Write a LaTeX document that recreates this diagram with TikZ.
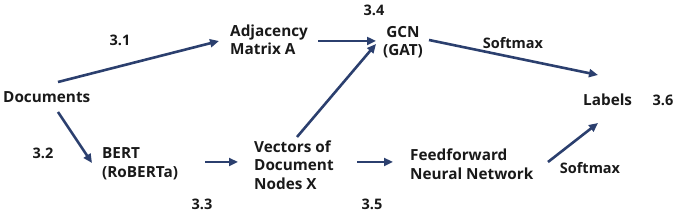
\documentclass[tikz,border=0pt]{standalone}
\usepackage{fontspec}
\setmainfont{Open Sans}
\usetikzlibrary{arrows.meta}
\definecolor{navy}{HTML}{2B3F6E}
\begin{document}
\begin{tikzpicture}[x=1pt,y=-1pt,
  lbl/.style={inner sep=0pt,font=\fontsize{15.3}{18.5}\selectfont\bfseries,text=black!90,align=left,anchor=west},
  num/.style={inner sep=0pt,font=\fontsize{14.5}{18}\selectfont\bfseries,text=black!90},
  arr/.style={draw=navy,line width=2.6pt,-{Triangle[length=9pt,width=8pt]}}]
\useasboundingbox (0,0) rectangle (680,213);
% nodes
\node[lbl] (doc) at (3,97) {Documents};
\node[lbl] (adj) at (230,40) {Adjacency\\Matrix A};
\node[lbl,align=center,anchor=center] (gcn) at (403,42) {GCN\\(GAT)};
\node[lbl] (lab) at (583,100) {Labels};
\node[lbl] (bert) at (102,164) {BERT\\(RoBERTa)};
\node[lbl] (vec) at (254,165) {Vectors of\\Document\\Nodes X};
\node[lbl] (ff) at (410,164) {Feedforward\\Neural Network};
% numbers and labels
\node[num] (n31) at (120,40) {3.1};
\node[num] (n34) at (374,10) {3.4};
\node[num] (n36) at (663,100) {3.6};
\node[num] (n32) at (43,153) {3.2};
\node[num] (n33) at (202,204) {3.3};
\node[num] (n35) at (372,204) {3.5};
\node[num] (sm1) at (513,43) {Softmax};
\node[num] (sm2) at (590,168) {Softmax};
% arrow ends
\coordinate (docA) at (58,82);
\coordinate (adjIn) at (219,41);
\coordinate (docB) at (58,112);
\coordinate (bertIn) at (92,163);
\coordinate (adjOut) at (318,41);
\coordinate (gcnIn) at (376,41);
\coordinate (vecUp) at (297,137);
\coordinate (gcnIn2) at (376,44);
\coordinate (gcnOut) at (429,40);
\coordinate (labIn) at (598,75);
\coordinate (bertOut) at (205,162);
\coordinate (vecIn) at (238,162);
\coordinate (vecOut) at (357,162);
\coordinate (ffIn) at (393,162);
\coordinate (ffOut) at (548,162);
\coordinate (labIn2) at (598,123);
% arrows
\draw[arr] (docA) -- (adjIn);
\draw[arr] (docB) -- (bertIn);
\draw[arr] (adjOut) -- (gcnIn);
\draw[arr] (vecUp) -- (gcnIn2);
\draw[arr] (gcnOut) -- (labIn);
\draw[arr] (bertOut) -- (vecIn);
\draw[arr] (vecOut) -- (ffIn);
\draw[arr] (ffOut) -- (labIn2);
\end{tikzpicture}
\end{document}
